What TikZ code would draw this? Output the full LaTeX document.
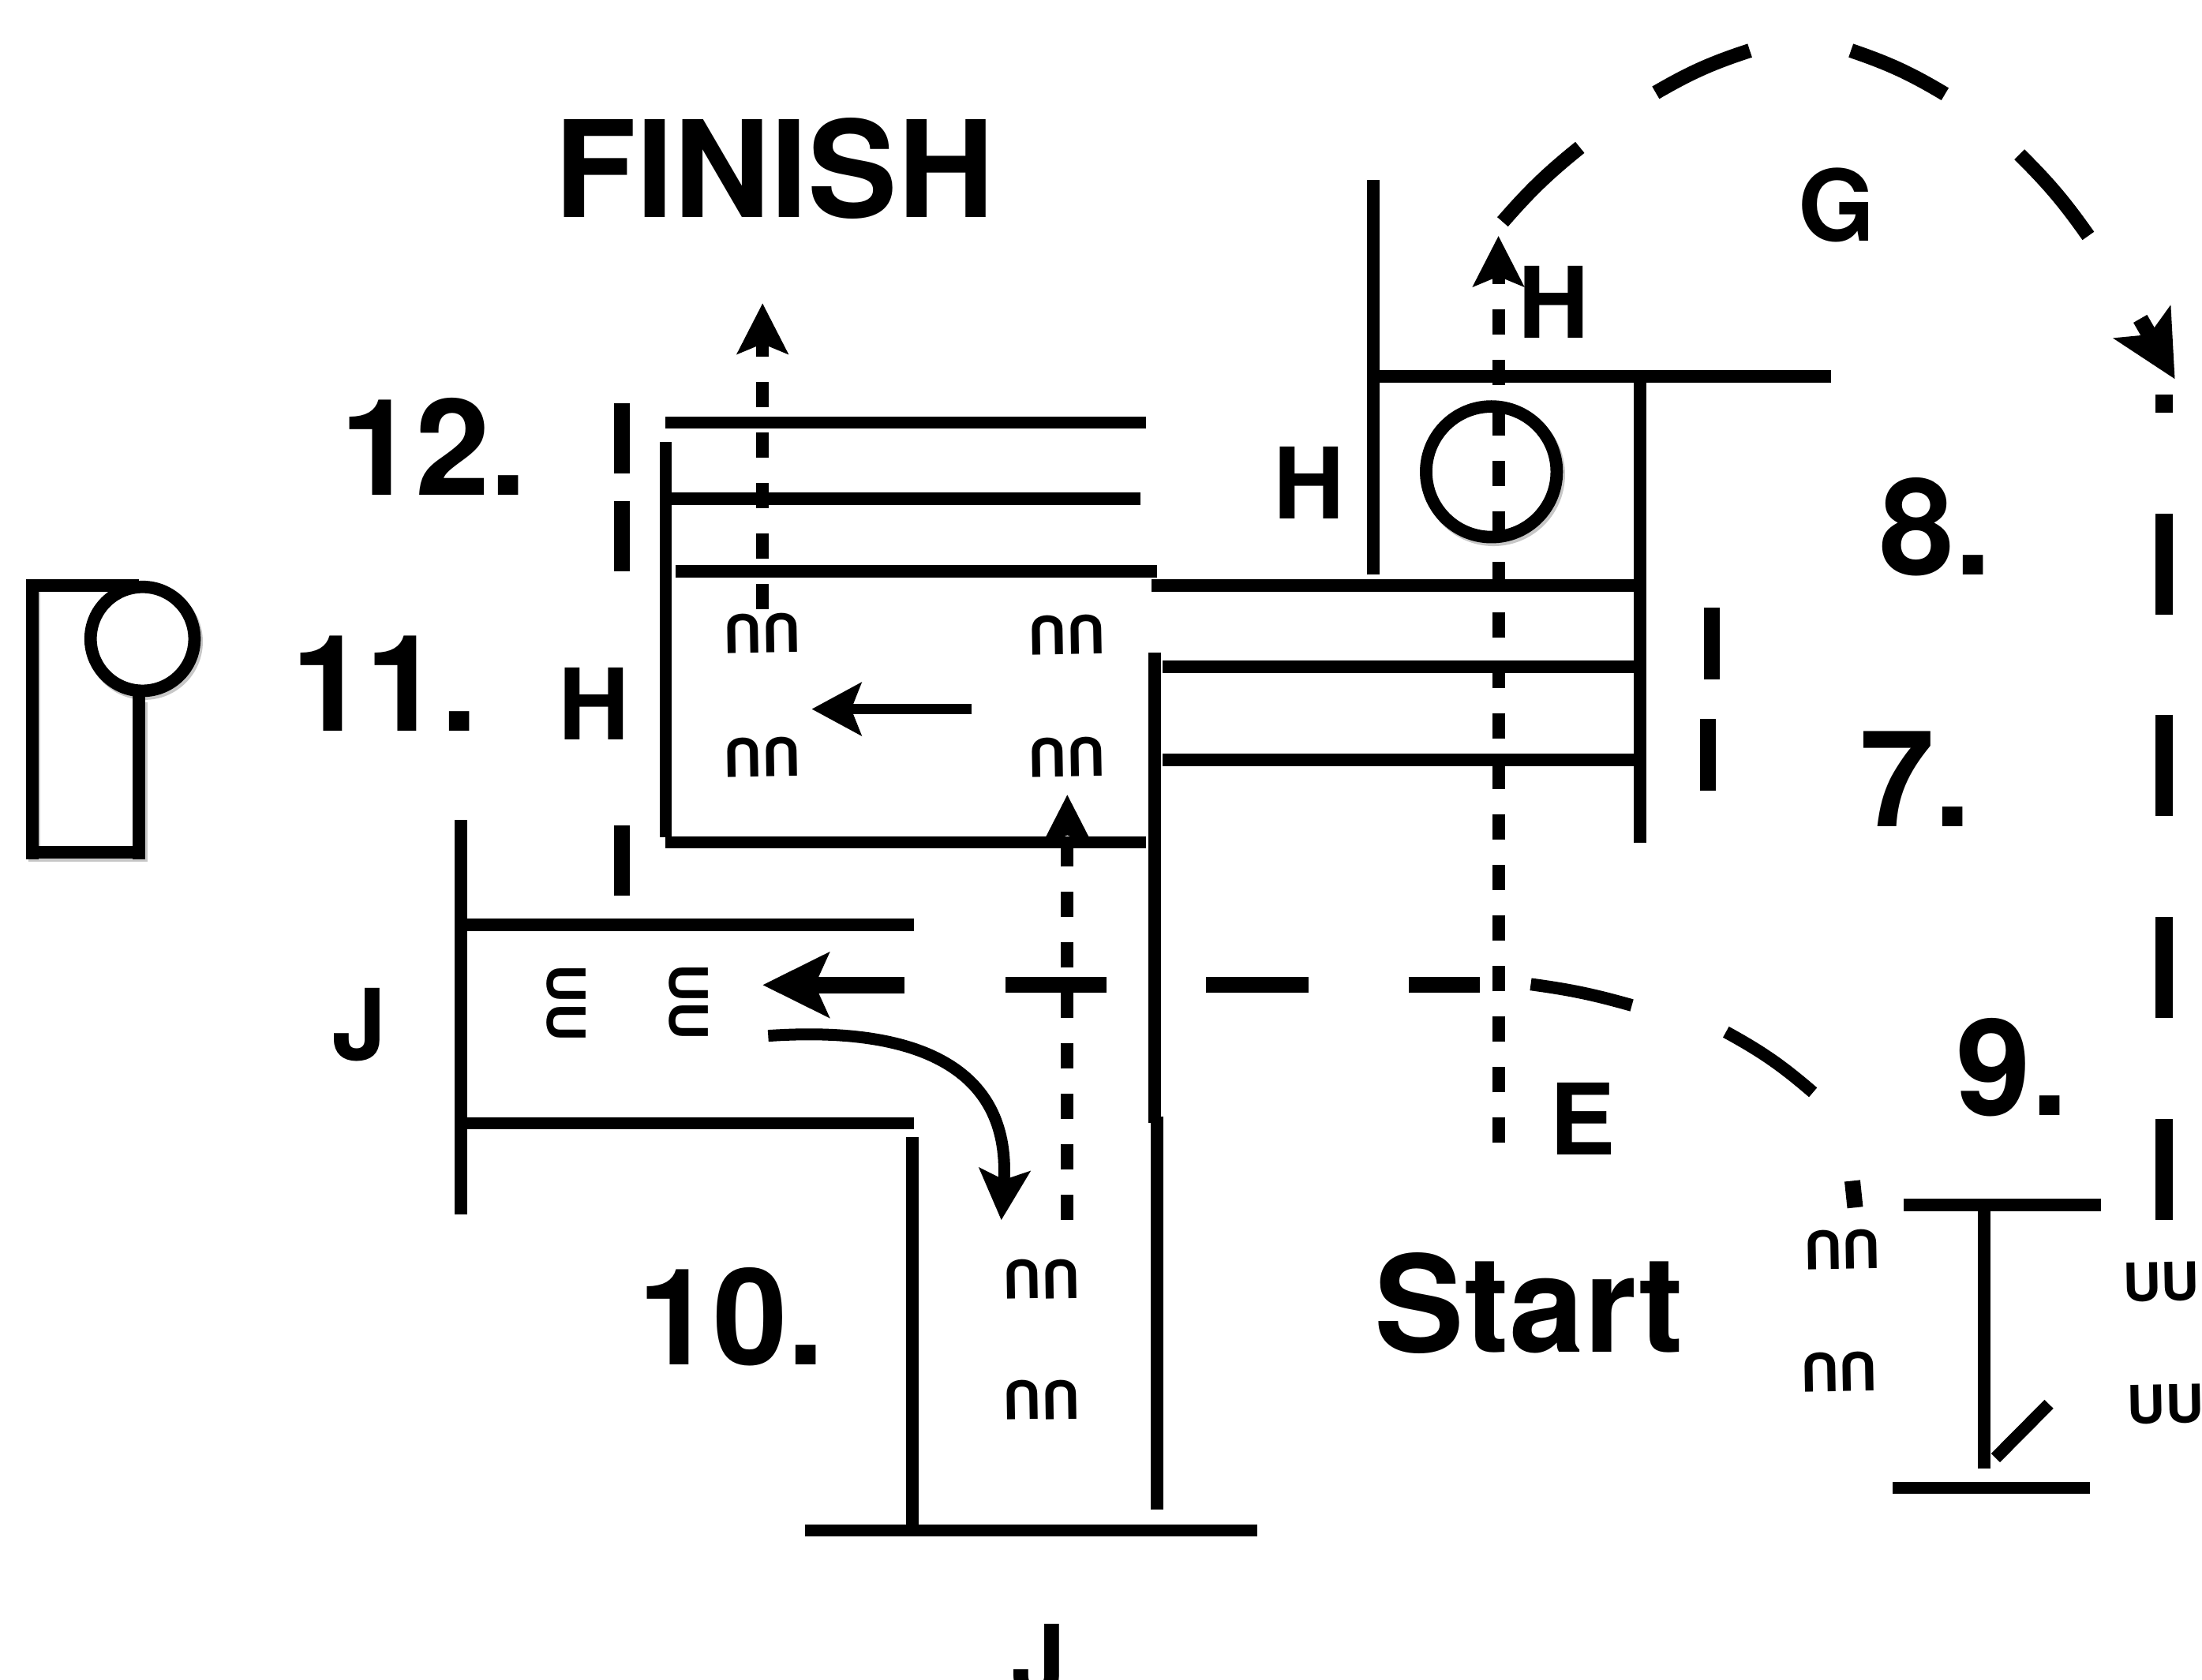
\documentclass[tikz,border=0pt]{standalone}
\usepackage{fontspec}
\setmainfont{TeX Gyre Heros}
\usetikzlibrary{arrows.meta}
\tikzset{
 wall/.style={black, line width=12.6pt},
 thickwall/.style={black, line width=16pt},
 arcwall/.style={black, line width=14.5pt},
 shade/.style={black!22, line width=12.6pt},
 dashline/.style={black, line width=12.8pt, dash pattern=on 25.6pt off 25.6pt},
 tipA/.style={-{Stealth[length=51pt,width=51pt,inset=10pt]}},
 tipB/.style={-{Stealth[length=67pt,width=65pt,inset=14pt]}},
 tipC/.style={-{Stealth[length=50pt,width=53pt,inset=10pt]}},
 bigtext/.style={inner sep=0pt, font=\bfseries\fontsize{136}{150}\selectfont},
 midtext/.style={inner sep=0pt, font=\bfseries\fontsize{100}{110}\selectfont},
 pairtext/.style={inner sep=0pt, font=\bfseries\fontsize{53.6}{60}\selectfont},
}
\begin{document}
\begin{tikzpicture}[x=.05cm, y=-.05cm]
\useasboundingbox (0,0) rectangle (1568,1196);
% far left figure
\draw[shade] (24.5,419)--(24.5,609.5)--(100.5,609.5)--(100.5,500);
\draw[shade] (103,457) circle (37);
\draw[wall] (23,417)--(99,417);
\draw[wall] (23,412.6)--(23,611.8);
\draw[wall] (18.4,607)--(103.6,607);
\draw[wall, fill=white] (101.5,455) circle (37);
\draw[wall] (99,490)--(99,611.8);
% corner room at the top right
\draw[wall] (978,128)--(978,409);
\draw[wall] (982,268)--(1304,268);
\draw[wall] (1168,268)--(1168,600);
\draw[wall] (820,417)--(1168,417);
\draw[wall] (828,475)--(1165,475);
\draw[wall] (828,541)--(1165,541);
\draw[wall] (822,465)--(822,800);
\draw[thickwall] (1219,433)--(1219,484);
\draw[thickwall] (1216,512)--(1216,563);
\draw[shade] (1063.5,338) circle (46.5);
\draw[wall, fill=white] (1062,336) circle (46.5);
% finish room
\draw[wall] (474,315)--(474,596);
\draw[wall] (474,600)--(816,600);
\draw[wall] (474,301)--(816,301);
\draw[wall] (470,355)--(812,355);
\draw[wall] (481,407)--(824,407);
\foreach \ya/\yb in {287/337, 357/407, 588/638} {
 \draw[thickwall] (443,\ya)--(443,\yb);
}
% left corridor and lower room
\draw[wall] (328,584)--(328,865);
\draw[wall] (332,658.5)--(651,658.5);
\draw[wall] (332,800)--(651,800);
\draw[wall] (649.5,810)--(649.5,1090);
\draw[wall] (824,795)--(824,1075);
\draw[wall] (573,1090)--(895,1090);
% dashes of the long track
\foreach \xa/\xb in {716/788, 859/932, 1003/1054} {
 \draw[black, line width=16pt] (\xa,701.5)--(\xb,701.5);
}
\foreach \ya/\yb in {281/294, 366/438, 509/581, 653/725, 797/869} {
 \draw[black, line width=17pt] (1541,\ya)--(1541,\yb);
}
\draw[wall] (1090,701) to[bend left=4] (1162,716);
\draw[wall] (1229,735) to[bend left=6] (1291,778);
\draw[black, line width=16pt] (1319,841)--(1321,860);
\draw[arcwall] (1070,158) to[bend left=5] (1125,105);
\draw[arcwall] (1179,66) to[bend left=6] (1246,36);
\draw[arcwall] (1318,36) to[bend left=6] (1385,67);
\draw[arcwall] (1438,110) to[bend left=5] (1487,168);
\draw[black, line width=16pt, -{Stealth[length=66pt,width=65pt,inset=14pt]}] (1524,227)--(1548.7,270);
% T beam at the right
\draw[wall] (1355.5,858)--(1495.8,858);
\draw[wall] (1413,858)--(1413,1045.6);
\draw[wall] (1347.7,1059.6)--(1488,1059.6);
\draw[wall] (1421,1038.3)--(1459,1000);
% dashed arrows
\draw[dashline, tipA] (1067,814)--(1067,168);
\draw[dashline, tipA] (543,434)--(543,216);
\draw[dashline, tipA] (760,869)--(760,566);
% solid arrows
\draw[black, line width=10pt, tipC] (692,505)--(578,505);
\draw[black, line width=17pt, tipB] (644,701.5)--(543,701.5);
\draw[black, line width=12pt, tipA] (547,737.7) .. controls (660,730) and (720,765) .. (713,869);
% labels
\node[bigtext] (finish) at (551.5,120) {FINISH};
\node[bigtext] (start) at (1089,928) {Start};
\node[bigtext] (twelve) at (309,318) {12.};
\node[bigtext] (eleven) at (274,487) {11.};
\node[bigtext] (ten) at (521,938) {10.};
\node[bigtext] (eight) at (1378.5,375) {8.};
\node[bigtext] (seven) at (1364,555) {7.};
\node[bigtext] (nine) at (1433,760) {9.};
\node[midtext] (hA) at (1106.5,215) {H};
\node[midtext] (hB) at (932,344) {H};
\node[midtext] (hC) at (423,501) {H};
\node[midtext] (g) at (1308,146) {G};
\node[midtext] (e) at (1127,797) {E};
\node[midtext] (jA) at (256,730) {J};
\node[midtext] (jB) at (740,1183) {J};
\foreach \nm/\x/\y in {a/543/451, b/760/452, c/543/539, d/760/539, e/742/911, f/742/997, g/1312/890, h/1310/977} {
 \node[pairtext, rotate=181] (pair\nm) at (\x,\y) {UU};
}
\node[pairtext, rotate=1] (pairi) at (1539,913) {UU};
\node[pairtext, rotate=1] (pairj) at (1542,1000) {UU};
\node[pairtext, rotate=-90] (pairk) at (403.5,714.5) {UU};
\node[pairtext, rotate=-90] (pairl) at (490.5,713.5) {UU};
\end{tikzpicture}
\end{document}
